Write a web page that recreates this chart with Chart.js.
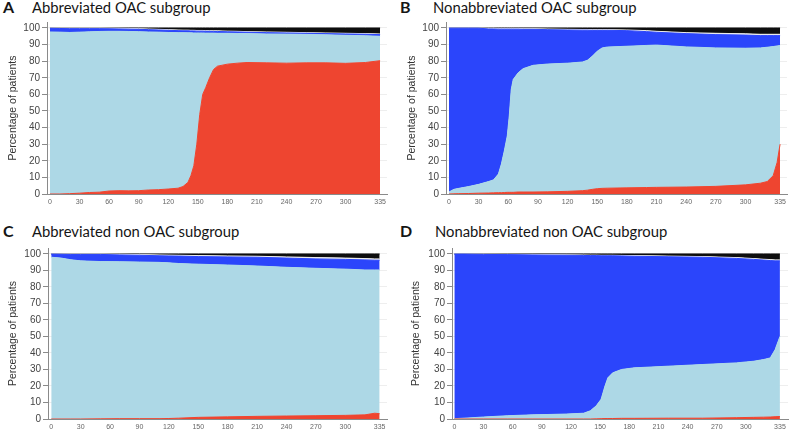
<!DOCTYPE html>
<html lang="en">
<head>
  <meta charset="UTF-8">
  <title>OAC subgroups</title>
  <script src="https://cdn.jsdelivr.net/npm/chart.js"></script>
  <style>
    body {
      margin: 0;
      background: #fff;
    }
    #wrap {
      position: relative;
      width: 800px;
      height: 431px;
      overflow: hidden;
      font-family: Lato, 'Noto Sans', sans-serif;
    }
    .letter, .ptitle {
      position: absolute;
      color: #151515;
      white-space: nowrap;
      line-height: 16px;
    }
    .letter { font-weight: bold; font-size: 16px; }
    .ptitle { font-size: 14.8px; }
    canvas { position: absolute; }
  </style>
</head>
<body>
  <div id="wrap">
    <div class="letter" style="left:3px;top:-1px">A</div>
    <div class="ptitle" style="left:32px;top:-1px">Abbreviated OAC subgroup</div>
    <div class="letter" style="left:400px;top:-1px">B</div>
    <div class="ptitle" style="left:433px;top:-1px">Nonabbreviated OAC subgroup</div>
    <div class="letter" style="left:3px;top:223px">C</div>
    <div class="ptitle" style="left:32px;top:223px">Abbreviated non OAC subgroup</div>
    <div class="letter" style="left:400px;top:223px">D</div>
    <div class="ptitle" style="left:435px;top:223px">Nonabbreviated non OAC subgroup</div>

    <canvas id="chartA" width="400" height="215" style="left:0;top:0"></canvas>
    <canvas id="chartB" width="400" height="215" style="left:400px;top:0"></canvas>
    <canvas id="chartC" width="400" height="216" style="left:0;top:215px"></canvas>
    <canvas id="chartD" width="400" height="216" style="left:400px;top:215px"></canvas>
  </div>

  <script>
    // tick labels
    const xTicks = [0, 30, 60, 90, 120, 150, 180, 210, 240, 270, 300, 335];
    const yTicks = [0, 10, 20, 30, 40, 50, 60, 70, 80, 90, 100];

    // layer names, bottom to top
    const layers = ["Red", "Light blue", "Blue", "White", "Black"];

    // A: Abbreviated OAC subgroup
    const daysA  = [0, 10, 20, 30, 40, 50, 60, 70, 80, 90, 100, 110, 120, 130, 135, 140, 143, 146, 149, 152, 155, 158, 162, 166, 170, 180, 190, 200, 220, 240, 260, 280, 300, 320, 335];
    const redA   = [0, 0, 0.2, 0.5, 0.9, 1.1, 1.8, 2.0, 1.9, 2.0, 2.4, 2.6, 3.0, 3.5, 4.5, 7, 11, 17, 30, 48, 60, 64, 70, 75, 77, 78.2, 78.8, 79.2, 79.0, 78.8, 79.0, 79.0, 78.7, 79.2, 80.3];
    const lightA = [97.6, 97.5, 97.1, 97.0, 96.8, 96.8, 96.2, 96.0, 96.0, 95.8, 95.2, 94.9, 94.3, 93.7, 92.7, 90.1, 86.1, 80.0, 67.0, 49.0, 37.0, 32.9, 26.9, 21.9, 19.8, 18.6, 17.9, 17.4, 17.4, 17.5, 17.1, 16.9, 16.9, 16.1, 14.7];
    const blueA  = [2.2, 2.2, 2.3, 2.1, 1.9, 1.7, 1.5, 1.4, 1.4, 1.4, 1.4, 1.3, 1.3, 1.2, 1.1, 1.2, 1.1, 1.2, 1.1, 1.1, 1.1, 1.1, 1.1, 1.0, 1.1, 0.9, 0.9, 0.8, 0.8, 0.7, 0.7, 0.7, 0.8, 0.9, 1.0];
    const whiteA = [0.2, 0.3, 0.4, 0.4, 0.4, 0.4, 0.4, 0.4, 0.4, 0.4, 0.4, 0.4, 0.4, 0.4, 0.4, 0.4, 0.4, 0.4, 0.4, 0.4, 0.4, 0.4, 0.4, 0.4, 0.4, 0.4, 0.4, 0.4, 0.4, 0.4, 0.4, 0.4, 0.4, 0.4, 0.4];
    const blackA = [0, 0, 0, 0, 0, 0, 0.1, 0.2, 0.3, 0.4, 0.6, 0.8, 1.0, 1.2, 1.3, 1.3, 1.4, 1.4, 1.5, 1.5, 1.5, 1.6, 1.6, 1.7, 1.7, 1.9, 2.0, 2.2, 2.4, 2.6, 2.8, 3.0, 3.2, 3.4, 3.6];

    // B: Nonabbreviated OAC subgroup
    const daysB  = [0, 5, 10, 20, 30, 40, 45, 50, 53, 56, 59, 61, 63, 65, 70, 75, 85, 100, 120, 135, 140, 145, 150, 155, 160, 180, 200, 210, 240, 270, 300, 315, 322, 328, 332, 335];
    const redB   = [0, 0.1, 0.2, 0.3, 0.5, 0.6, 0.7, 0.8, 0.8, 0.9, 1.0, 1.0, 1.0, 1.0, 1.2, 1.2, 1.2, 1.3, 1.6, 2.0, 2.3, 2.8, 3.2, 3.4, 3.5, 3.7, 3.9, 4.0, 4.2, 4.6, 5.5, 6.5, 7.5, 11, 19, 30];
    const lightB = [1.2, 2.7, 3.2, 4.2, 5.3, 6.9, 7.8, 11.2, 17.2, 25.1, 34.0, 46.0, 62.0, 68.0, 71.8, 74.3, 76.3, 77.0, 77.2, 77.5, 78.2, 80.2, 82.8, 84.6, 85.0, 85.3, 85.6, 85.7, 84.4, 83.4, 82.3, 81.5, 80.9, 77.8, 70.2, 59.4];
    const blueB  = [98.7, 97.1, 96.5, 95.4, 94.1, 91.9, 90.9, 87.3, 81.3, 73.3, 64.3, 52.3, 36.3, 30.3, 26.3, 23.7, 21.7, 20.7, 20.0, 19.2, 18.2, 15.6, 12.6, 10.6, 10.1, 9.4, 8.3, 7.7, 8.0, 8.0, 7.9, 7.4, 7.0, 6.6, 6.2, 6.0];
    const whiteB = [0.1, 0.1, 0.1, 0.1, 0.1, 0.4, 0.4, 0.4, 0.4, 0.4, 0.4, 0.4, 0.4, 0.4, 0.4, 0.4, 0.4, 0.4, 0.4, 0.4, 0.4, 0.4, 0.4, 0.4, 0.4, 0.4, 0.6, 0.6, 0.6, 0.8, 0.8, 0.8, 0.8, 0.8, 0.8, 0.8];
    const blackB = [0, 0, 0, 0, 0, 0.2, 0.2, 0.3, 0.3, 0.3, 0.3, 0.3, 0.3, 0.3, 0.3, 0.4, 0.4, 0.6, 0.8, 0.9, 0.9, 1.0, 1.0, 1.0, 1.0, 1.2, 1.6, 2.0, 2.8, 3.2, 3.5, 3.8, 3.8, 3.8, 3.8, 3.8];

    // C: Abbreviated non OAC subgroup
    const daysC  = [0, 10, 20, 30, 50, 70, 90, 110, 120, 130, 150, 180, 210, 240, 270, 300, 320, 330, 335];
    const redC   = [0, 0, 0, 0, 0.1, 0.2, 0.2, 0.2, 0.3, 0.5, 1.0, 1.3, 1.6, 1.8, 2.0, 2.2, 2.5, 3.5, 3.2];
    const lightC = [98, 97.5, 96.5, 95.8, 95.3, 95.1, 94.9, 94.7, 94.3, 93.7, 92.8, 92.0, 91.1, 90.1, 89.3, 88.6, 87.8, 86.8, 87.1];
    const blueC  = [1.9, 2.3, 3.2, 3.9, 4.3, 4.1, 4.1, 4.0, 4.2, 4.5, 4.6, 4.9, 5.3, 5.6, 5.7, 5.9, 6.1, 5.9, 5.9];
    const whiteC = [0.1, 0.2, 0.3, 0.3, 0.3, 0.4, 0.4, 0.5, 0.5, 0.5, 0.6, 0.6, 0.6, 0.7, 0.8, 0.8, 0.8, 0.8, 0.8];
    const blackC = [0, 0, 0, 0, 0, 0.2, 0.4, 0.6, 0.7, 0.8, 1.0, 1.2, 1.4, 1.8, 2.2, 2.5, 2.8, 3.0, 3.0];

    // D: Nonabbreviated non OAC subgroup
    const daysD  = [0, 10, 30, 55, 80, 115, 133, 140, 146, 151, 155, 158, 163, 172, 185, 220, 255, 290, 308, 318, 325, 330, 335];
    const redD   = [0, 0, 0, 0, 0, 0, 0, 0, 0.1, 0.2, 0.3, 0.3, 0.3, 0.4, 0.4, 0.5, 0.5, 0.8, 1.0, 1.1, 1.2, 1.4, 1.5];
    const lightD = [0.2, 0.5, 1.2, 2.0, 2.5, 3.0, 3.5, 5.0, 7.9, 11.8, 19.7, 24.7, 27.7, 29.6, 30.6, 31.5, 32.5, 33.2, 34.0, 34.9, 35.8, 40.6, 48.5];
    const blueD  = [99.7, 99.4, 98.5, 97.6, 96.9, 96.2, 95.6, 94.0, 91.0, 86.9, 78.9, 73.9, 70.9, 68.8, 67.6, 66.3, 65.0, 63.3, 61.7, 60.3, 59.0, 53.8, 45.8];
    const whiteD = [0.1, 0.1, 0.2, 0.2, 0.3, 0.3, 0.3, 0.3, 0.3, 0.3, 0.3, 0.3, 0.3, 0.3, 0.4, 0.4, 0.4, 0.5, 0.5, 0.5, 0.6, 0.6, 0.6];
    const blackD = [0, 0, 0.1, 0.2, 0.3, 0.5, 0.6, 0.7, 0.7, 0.8, 0.8, 0.8, 0.8, 0.9, 1.0, 1.3, 1.6, 2.2, 2.8, 3.2, 3.4, 3.6, 3.6];

    const colors = ["#EE4530", "#ADD8E6", "#2B45FB", "#EDEDED", "#0E0E0E"];

    function drawPanel(id, days, series, geo) {
      const datasets = series.map((vals, i) => ({
        label: layers[i],
        data: vals.map((v, k) => ({ x: days[k], y: v })),
        backgroundColor: colors[i],
        borderColor: colors[i],
        borderWidth: 1,
        pointRadius: 0,
        tension: 0,
        fill: i === 0 ? "origin" : "-1"
      }));

      new Chart(document.getElementById(id).getContext("2d"), {
        type: "line",
        data: { datasets: datasets },
        options: {
          responsive: false,
          animation: false,
          layout: { padding: { top: geo.top, right: geo.right, left: 0, bottom: 0 } },
          plugins: {
            legend: { display: false },
            tooltip: { enabled: false }
          },
          scales: {
            x: {
              type: "linear",
              min: geo.xmin,
              max: geo.xmax,
              grid: { display: false, drawTicks: false, tickLength: 0 },
              border: { display: true, color: "#8a8a8a", width: 1 },
              ticks: {
                color: "#666",
                padding: geo.xpad,
                maxRotation: 0,
                autoSkip: false,
                font: { family: "'Liberation Sans', Arial, sans-serif", size: 7, lineHeight: 1 }
              },
              afterBuildTicks: axis => { axis.ticks = xTicks.map(v => ({ value: v })); },
              afterFit: axis => { axis.height = geo.xh; }
            },
            y: {
              stacked: true,
              min: 0,
              max: geo.ymax,
              grid: {
                color: "#eeeeee",
                tickColor: "#8a8a8a",
                tickLength: 5
              },
              border: { display: true, color: "#8a8a8a", width: 1 },
              ticks: {
                color: "#444",
                padding: 2,
                font: { family: "'Liberation Sans', Arial, sans-serif", size: 10 }
              },
              afterBuildTicks: axis => { axis.ticks = yTicks.map(v => ({ value: v })); },
              afterFit: axis => { axis.width = geo.yw; },
              title: {
                display: true,
                text: "Percentage of patients",
                color: "#333",
                padding: { top: geo.tpad, bottom: 0 },
                font: { family: "'Liberation Sans', Arial, sans-serif", size: 10.5 }
              }
            }
          }
        }
      });
    }

    drawPanel("chartA", daysA, [redA, lightA, blueA, whiteA, blackA],
      { top: 22, right: 13, xh: 21, yw: 47, xpad: 5, xmin: -3, xmax: 342, ymax: 103.6, tpad: 7 });
    drawPanel("chartB", daysB, [redB, lightB, blueB, whiteB, blackB],
      { top: 22, right: 13, xh: 21, yw: 46, xpad: 5, xmin: -3, xmax: 342, ymax: 103.6, tpad: 6 });
    drawPanel("chartC", daysC, [redC, lightC, blueC, whiteC, blackC],
      { top: 33, right: 13, xh: 12, yw: 48, xpad: 5, xmin: -3.3, xmax: 342.5, ymax: 103.6, tpad: 7 });
    drawPanel("chartD", daysD, [redD, lightD, blueD, whiteD, blackD],
      { top: 33, right: 12, xh: 12, yw: 52, xpad: 5, xmin: -2.4, xmax: 343.3, ymax: 103.6, tpad: 10 });
  </script>
</body>
</html>
